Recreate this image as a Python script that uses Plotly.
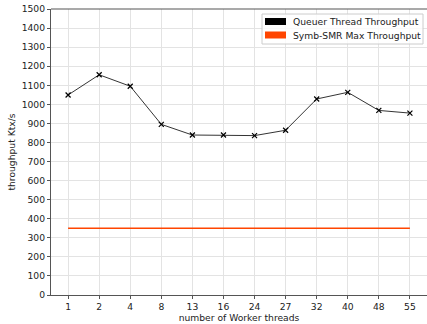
import plotly.graph_objects as go

categories = ["1", "2", "4", "8", "13", "16", "24", "27", "32", "40", "48", "55"]
queuer_throughput = [1049, 1155, 1095, 895, 839, 839, 836, 864, 1028, 1063, 968, 954]
smr_max_throughput = [350] * len(categories)
y_ticks = list(range(0, 1501, 100))

FONT = "DejaVu Sans"
FS = 9.2
x_idx = list(range(len(categories)))

fig = go.Figure()
fig.add_trace(go.Scatter(
    x=x_idx, y=smr_max_throughput, mode="lines",
    line=dict(color="#FF4500", width=1.6), name="Symb-SMR Max Throughput",
    showlegend=False))
fig.add_trace(go.Scatter(
    x=x_idx, y=queuer_throughput, mode="lines+markers",
    line=dict(color="black", width=0.8),
    marker=dict(symbol="x-thin", size=5, line=dict(color="black", width=1.2)),
    name="Queuer Thread Throughput", showlegend=False))

# manual legend (patch style)
legend_items = [("Queuer Thread Throughput", "black"), ("Symb-SMR Max Throughput", "#FF4500")]
W, H = 427, 324
L, T, B, R = 51, 9, 29, 0
pw, ph = W - L - R, H - T - B
def px(x): return (x - L) / pw
def py(y): return 1 - (y - T) / ph
shapes = [dict(type="rect", xref="paper", yref="paper",
               x0=px(262), x1=px(423), y0=py(44), y1=py(14),
               line=dict(color="#cccccc", width=1), fillcolor="rgba(255,255,255,0.8)", layer="above")]
annotations = []
for i, (name, col) in enumerate(legend_items):
    yc = 21.5 + i * 13.5
    shapes.append(dict(type="rect", xref="paper", yref="paper",
                       x0=px(265), x1=px(286), y0=py(yc + 3.5), y1=py(yc - 3.5),
                       line=dict(width=0), fillcolor=col, layer="above"))
    annotations.append(dict(xref="paper", yref="paper", x=px(291), y=py(yc),
                            text=name, showarrow=False, xanchor="left", yanchor="middle",
                            font=dict(family=FONT, size=FS, color="#222")))

fig.update_layout(
    width=W, height=H,
    margin=dict(l=L, r=R, t=T, b=B, pad=0),
    paper_bgcolor="white", plot_bgcolor="white",
    font=dict(family=FONT, size=FS, color="#222"),
    shapes=shapes, annotations=annotations,
    xaxis=dict(
        range=[-0.55, 11.55], tickmode="array", tickvals=x_idx, ticktext=categories,
        showgrid=True, gridcolor="#e3e3e3", gridwidth=1,
        showline=True, linecolor="#555", linewidth=1.2, mirror=False,
        ticks="outside", ticklen=3, tickcolor="#555", zeroline=False,
        title=dict(text="number of Worker threads", standoff=2, font=dict(size=FS)),
    ),
    yaxis=dict(
        range=[0, 1500], tickmode="array", tickvals=y_ticks,
        showgrid=True, gridcolor="#e3e3e3", gridwidth=1,
        showline=True, linecolor="#555", linewidth=1.2,
        ticks="outside", ticklen=3, tickcolor="#555", zeroline=False,
        title=dict(text="throughput Ktx/s", standoff=4, font=dict(size=FS)),
    ),
)
# top spine
fig.add_shape(type="line", xref="paper", yref="paper", x0=0, x1=1, y0=1, y1=1,
              line=dict(color="#555", width=1.2))

fig.write_html("out.html")
